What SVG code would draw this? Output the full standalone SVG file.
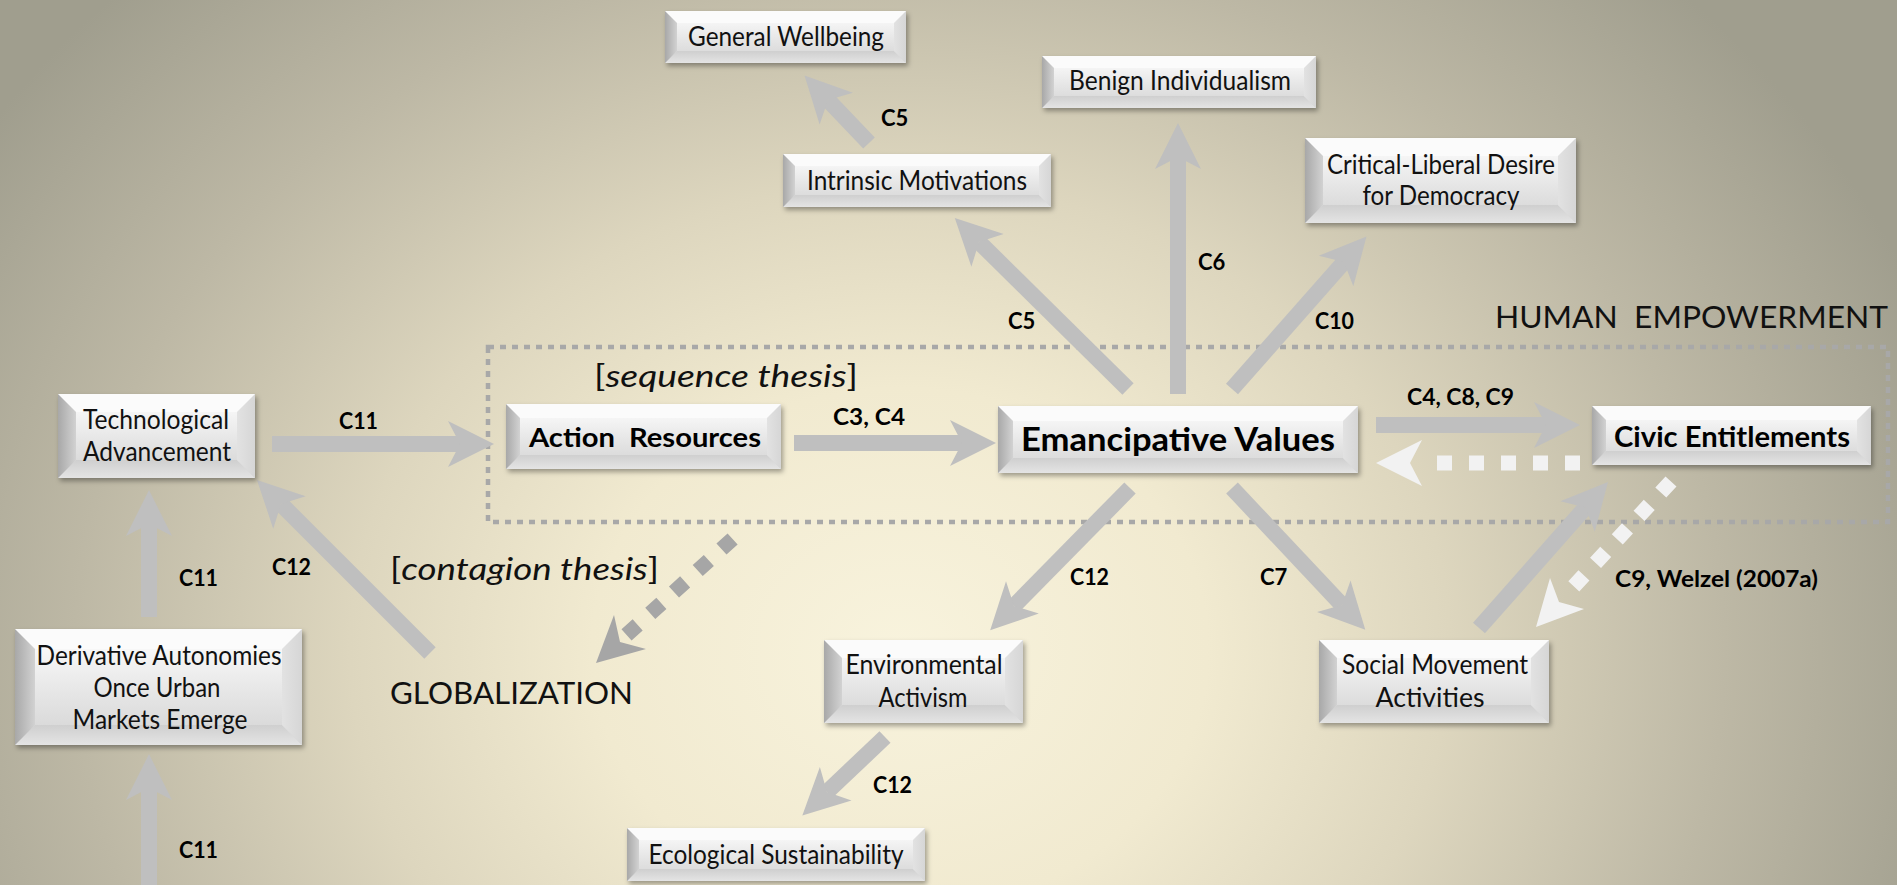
<svg xmlns="http://www.w3.org/2000/svg" width="1897" height="885" viewBox="0 0 1897 885">
<defs>
<radialGradient id="bg" gradientUnits="userSpaceOnUse" cx="900" cy="650" r="1100" gradientTransform="translate(900 650) scale(1 0.85) translate(-900 -650)">
<stop offset="0" stop-color="#f8f3dd"/>
<stop offset="0.28" stop-color="#f1ead0"/>
<stop offset="0.5" stop-color="#ddd6be"/>
<stop offset="0.75" stop-color="#bdb8a5"/>
<stop offset="1" stop-color="#a09e8e"/>
</radialGradient>
<linearGradient id="gFace" x1="0" y1="0" x2="0" y2="1">
<stop offset="0" stop-color="#ffffff"/>
<stop offset="0.55" stop-color="#e6e6e6"/>
<stop offset="1" stop-color="#d3d3d3"/>
</linearGradient>
<linearGradient id="gL" x1="0" y1="0" x2="1" y2="0">
<stop offset="0" stop-color="#a8a8a8"/>
<stop offset="1" stop-color="#d2d2d2"/>
</linearGradient>
<linearGradient id="gR" x1="0" y1="0" x2="1" y2="0">
<stop offset="0" stop-color="#e2e2e2"/>
<stop offset="1" stop-color="#d6d6d6"/>
</linearGradient>
<linearGradient id="gB" x1="0" y1="0" x2="0" y2="1">
<stop offset="0" stop-color="#cfcfcf"/>
<stop offset="1" stop-color="#e4e4e4"/>
</linearGradient>
<filter id="sh" x="-10%" y="-20%" width="125%" height="150%">
<feDropShadow dx="2" dy="3" stdDeviation="2.5" flood-color="#000" flood-opacity="0.35"/>
</filter>
<marker id="ah" markerUnits="userSpaceOnUse" markerWidth="50" markerHeight="50" viewBox="0 -25 50 50" refX="12" refY="0" orient="auto" overflow="visible">
<path d="M0,-23 L46,0 L0,23 L12,0 Z" fill="#bfbfbf"/>
</marker>
<style>
.base{fill:url(#gFace);filter:url(#sh);}
.ft{fill:#fbfbfb;}
.fl{fill:url(#gL);}
.fr{fill:url(#gR);}
.fb{fill:url(#gB);}
text{font-family:Lato,"Open Sans","Liberation Sans",sans-serif;}
.nt{font-size:26px;fill:#111;text-anchor:middle;}
.nb{font-weight:bold;fill:#000;text-anchor:middle;}
.lb{font-weight:bold;font-size:22px;fill:#000;}
.big{font-size:31px;fill:#111;}
.sh{stroke:#bfbfbf;stroke-width:16;fill:none;marker-end:url(#ah);}
.wd{stroke:#f2f2f2;stroke-width:15;fill:none;stroke-dasharray:15 17;}
.gd{stroke:#a6a6a6;stroke-width:15;fill:none;stroke-dasharray:15 17;}
.box{fill:none;stroke:#a8a8a8;stroke-width:4.5;stroke-dasharray:6 6;}
</style>
</defs>
<rect x="0" y="0" width="1897" height="885" fill="url(#bg)"/>

<g id="human-empowerment-frame">
<rect class="box" x="488" y="347" width="1400" height="175"/>
<text class="big" x="1495" y="328" textLength="393" lengthAdjust="spacingAndGlyphs" xml:space="preserve">HUMAN  EMPOWERMENT</text>
</g>

<g id="annotations">
<text class="big" x="594" y="387" font-size="32" textLength="264" lengthAdjust="spacingAndGlyphs">[<tspan font-style="italic">sequence thesis</tspan>]</text>
<text class="big" x="390" y="580" font-size="32" textLength="269" lengthAdjust="spacingAndGlyphs">[<tspan font-style="italic">contagion thesis</tspan>]</text>
<text class="big" x="390" y="704" textLength="243" lengthAdjust="spacingAndGlyphs">GLOBALIZATION</text>
</g>

<g id="connectors">
<line class="sh" x1="272" y1="444" x2="460" y2="444"/>
<line class="sh" x1="794" y1="443" x2="962" y2="443"/>
<line class="sh" x1="1376" y1="425" x2="1546" y2="425"/>
<line class="sh" x1="1178" y1="394" x2="1178" y2="157"/>
<line class="sh" x1="1128" y1="389" x2="979" y2="242"/>
<line class="sh" x1="1232" y1="389" x2="1344" y2="262"/>
<line class="sh" x1="1130" y1="488" x2="1014" y2="606"/>
<line class="sh" x1="1232" y1="488" x2="1342" y2="605"/>
<line class="sh" x1="1479" y1="628" x2="1585.5" y2="507.5"/>
<line class="sh" x1="885" y1="737" x2="827" y2="792"/>
<line class="sh" x1="869" y1="143" x2="828" y2="100"/>
<line class="sh" x1="149" y1="617" x2="149" y2="524"/>
<line class="sh" x1="149" y1="885" x2="149" y2="788"/>
<line class="sh" x1="430" y1="653" x2="281" y2="504"/>
<line class="wd" x1="1580" y1="463" x2="1437" y2="463"/>
<polygon points="1376,463 1422,440 1410,463 1422,486" fill="#f2f2f2"/>
<line class="wd" x1="1671" y1="481.5" x2="1573.8" y2="586.3"/>
<polygon points="1536,627 1550,578 1559,602 1584,609" fill="#f2f2f2"/>
<line class="gd" x1="732.6" y1="539" x2="626.4" y2="635"/>
<polygon points="596,663 614,615 620,642 646,649" fill="#a6a6a6"/>
</g>

<g id="connector-labels">
<text class="lb" x="339" y="429" textLength="39" lengthAdjust="spacingAndGlyphs">C11</text>
<text class="lb" x="833" y="425" textLength="72" lengthAdjust="spacingAndGlyphs">C3, C4</text>
<text class="lb" x="1407" y="405" textLength="107" lengthAdjust="spacingAndGlyphs">C4, C8, C9</text>
<text class="lb" x="881" y="126">C5</text>
<text class="lb" x="1008" y="329">C5</text>
<text class="lb" x="1198" y="270">C6</text>
<text class="lb" x="1315" y="329" textLength="39" lengthAdjust="spacingAndGlyphs">C10</text>
<text class="lb" x="1070" y="585" textLength="39" lengthAdjust="spacingAndGlyphs">C12</text>
<text class="lb" x="1260" y="585">C7</text>
<text class="lb" x="873" y="793" textLength="39" lengthAdjust="spacingAndGlyphs">C12</text>
<text class="lb" x="1615" y="587" textLength="203" lengthAdjust="spacingAndGlyphs">C9, Welzel (2007a)</text>
<text class="lb" x="179" y="586" textLength="39" lengthAdjust="spacingAndGlyphs">C11</text>
<text class="lb" x="179" y="858" textLength="39" lengthAdjust="spacingAndGlyphs">C11</text>
<text class="lb" x="272" y="575" textLength="39" lengthAdjust="spacingAndGlyphs">C12</text>
</g>

<g id="n-general-wellbeing">
<rect class="base" x="665" y="11" width="241" height="52"/>
<polygon class="ft" points="665,11 906,11 894,23 677,23"/>
<polygon class="fb" points="665,63 906,63 894,51 677,51"/>
<polygon class="fl" points="665,11 677,23 677,51 665,63"/>
<polygon class="fr" points="906,11 894,23 894,51 906,63"/>
<text class="nt" x="786" y="46" textLength="196" lengthAdjust="spacingAndGlyphs">General Wellbeing</text>
</g>

<g id="n-benign-individualism">
<rect class="base" x="1042" y="56" width="274" height="52"/>
<polygon class="ft" points="1042,56 1316,56 1304,68 1054,68"/>
<polygon class="fb" points="1042,108 1316,108 1304,96 1054,96"/>
<polygon class="fl" points="1042,56 1054,68 1054,96 1042,108"/>
<polygon class="fr" points="1316,56 1304,68 1304,96 1316,108"/>
<text class="nt" x="1180" y="90" textLength="222" lengthAdjust="spacingAndGlyphs">Benign Individualism</text>
</g>

<g id="n-intrinsic-motivations">
<rect class="base" x="783" y="154" width="268" height="53"/>
<polygon class="ft" points="783,154 1051,154 1039,166 795,166"/>
<polygon class="fb" points="783,207 1051,207 1039,195 795,195"/>
<polygon class="fl" points="783,154 795,166 795,195 783,207"/>
<polygon class="fr" points="1051,154 1039,166 1039,195 1051,207"/>
<text class="nt" x="917" y="190" textLength="220" lengthAdjust="spacingAndGlyphs">Intrinsic Motivations</text>
</g>

<g id="n-critical-liberal">
<rect class="base" x="1305" y="138" width="271" height="85"/>
<polygon class="ft" points="1305,138 1576,138 1558,156 1323,156"/>
<polygon class="fb" points="1305,223 1576,223 1558,205 1323,205"/>
<polygon class="fl" points="1305,138 1323,156 1323,205 1305,223"/>
<polygon class="fr" points="1576,138 1558,156 1558,205 1576,223"/>
<text class="nt" x="1441" y="174" textLength="228" lengthAdjust="spacingAndGlyphs">Critical-Liberal Desire</text>
<text class="nt" x="1441" y="205" textLength="157" lengthAdjust="spacingAndGlyphs">for Democracy</text>
</g>

<g id="n-technological-advancement">
<rect class="base" x="58" y="394" width="197" height="84"/>
<polygon class="ft" points="58,394 255,394 237,412 76,412"/>
<polygon class="fb" points="58,478 255,478 237,460 76,460"/>
<polygon class="fl" points="58,394 76,412 76,460 58,478"/>
<polygon class="fr" points="255,394 237,412 237,460 255,478"/>
<text class="nt" x="156" y="429" textLength="146" lengthAdjust="spacingAndGlyphs">Technological</text>
<text class="nt" x="157" y="461" textLength="148" lengthAdjust="spacingAndGlyphs">Advancement</text>
</g>

<g id="n-action-resources">
<rect class="base" x="506" y="404" width="275" height="65"/>
<polygon class="ft" points="506,404 781,404 767,418 520,418"/>
<polygon class="fb" points="506,469 781,469 767,455 520,455"/>
<polygon class="fl" points="506,404 520,418 520,455 506,469"/>
<polygon class="fr" points="781,404 767,418 767,455 781,469"/>
<text class="nb" x="645" y="447" font-size="27" textLength="232" lengthAdjust="spacingAndGlyphs" xml:space="preserve">Action  Resources</text>
</g>

<g id="n-emancipative-values">
<rect class="base" x="998" y="406" width="360" height="67"/>
<polygon class="ft" points="998,406 1358,406 1343,421 1013,421"/>
<polygon class="fb" points="998,473 1358,473 1343,458 1013,458"/>
<polygon class="fl" points="998,406 1013,421 1013,458 998,473"/>
<polygon class="fr" points="1358,406 1343,421 1343,458 1358,473"/>
<text class="nb" x="1178" y="451" font-size="33" textLength="314" lengthAdjust="spacingAndGlyphs">Emancipative Values</text>
</g>

<g id="n-civic-entitlements">
<rect class="base" x="1592" y="406" width="279" height="59"/>
<polygon class="ft" points="1592,406 1871,406 1857,420 1606,420"/>
<polygon class="fb" points="1592,465 1871,465 1857,451 1606,451"/>
<polygon class="fl" points="1592,406 1606,420 1606,451 1592,465"/>
<polygon class="fr" points="1871,406 1857,420 1857,451 1871,465"/>
<text class="nb" x="1732" y="447" font-size="28" textLength="236" lengthAdjust="spacingAndGlyphs">Civic Entitlements</text>
</g>

<g id="n-derivative-autonomies">
<rect class="base" x="15" y="629" width="287" height="116"/>
<polygon class="ft" points="15,629 302,629 282,649 35,649"/>
<polygon class="fb" points="15,745 302,745 282,725 35,725"/>
<polygon class="fl" points="15,629 35,649 35,725 15,745"/>
<polygon class="fr" points="302,629 282,649 282,725 302,745"/>
<text class="nt" x="159" y="665" textLength="245" lengthAdjust="spacingAndGlyphs">Derivative Autonomies</text>
<text class="nt" x="157" y="697" textLength="127" lengthAdjust="spacingAndGlyphs">Once Urban</text>
<text class="nt" x="160" y="729" textLength="175" lengthAdjust="spacingAndGlyphs">Markets Emerge</text>
</g>

<g id="n-environmental-activism">
<rect class="base" x="824" y="640" width="199" height="83"/>
<polygon class="ft" points="824,640 1023,640 1005,658 842,658"/>
<polygon class="fb" points="824,723 1023,723 1005,705 842,705"/>
<polygon class="fl" points="824,640 842,658 842,705 824,723"/>
<polygon class="fr" points="1023,640 1005,658 1005,705 1023,723"/>
<text class="nt" x="924" y="674" textLength="157" lengthAdjust="spacingAndGlyphs">Environmental</text>
<text class="nt" x="923" y="707" textLength="89" lengthAdjust="spacingAndGlyphs">Activism</text>
</g>

<g id="n-social-movement">
<rect class="base" x="1319" y="640" width="230" height="83"/>
<polygon class="ft" points="1319,640 1549,640 1531,658 1337,658"/>
<polygon class="fb" points="1319,723 1549,723 1531,705 1337,705"/>
<polygon class="fl" points="1319,640 1337,658 1337,705 1319,723"/>
<polygon class="fr" points="1549,640 1531,658 1531,705 1549,723"/>
<text class="nt" x="1435" y="674" textLength="186" lengthAdjust="spacingAndGlyphs">Social Movement</text>
<text class="nt" x="1430" y="707" textLength="109" lengthAdjust="spacingAndGlyphs">Activities</text>
</g>

<g id="n-ecological-sustainability">
<rect class="base" x="627" y="828" width="298" height="53"/>
<polygon class="ft" points="627,828 925,828 913,840 639,840"/>
<polygon class="fb" points="627,881 925,881 913,869 639,869"/>
<polygon class="fl" points="627,828 639,840 639,869 627,881"/>
<polygon class="fr" points="925,828 913,840 913,869 925,881"/>
<text class="nt" x="776" y="864" textLength="255" lengthAdjust="spacingAndGlyphs">Ecological Sustainability</text>
</g>
</svg>
